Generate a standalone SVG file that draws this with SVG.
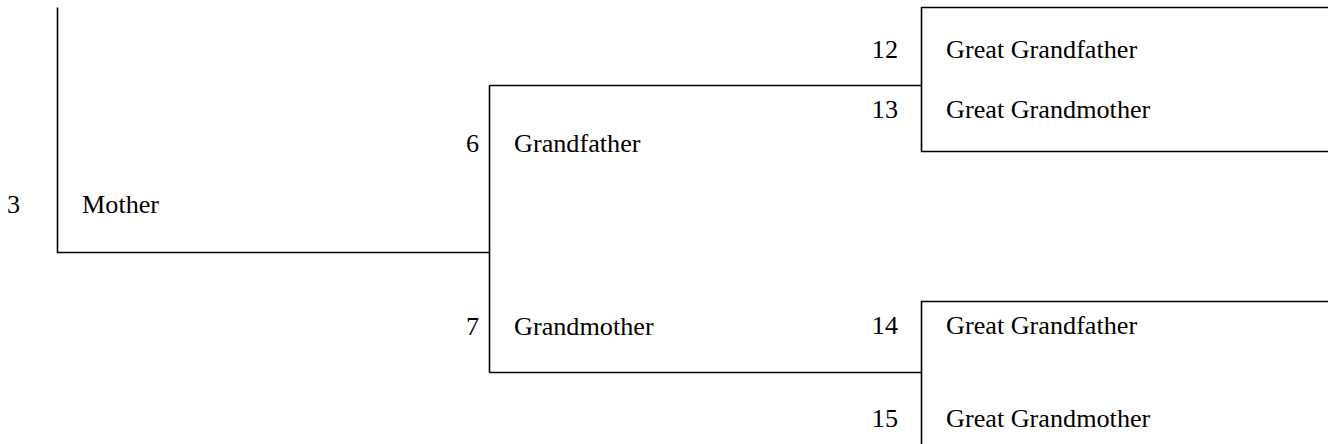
<svg xmlns="http://www.w3.org/2000/svg" width="1328" height="444" viewBox="0 0 1328 444">
<style>
.num{text-anchor:end}
.ln{stroke:#000;stroke-width:1.6;fill:none}
</style>
<rect width="1328" height="444" fill="#fff"/>
<g id="connectors">
<path class="ln" d="M57.5,7.5 V252.5 H489.5"/>
<path class="ln" d="M489.5,85.5 V372.5"/>
<path class="ln" d="M489.5,85.5 H921.5"/>
<path class="ln" d="M489.5,372.5 H921.5"/>
<path class="ln" d="M1328,7.5 H921.5 V151.5 H1328"/>
<path class="ln" d="M1328,301.5 H921.5 V444"/>
</g>
<g font-family="Liberation Serif, DejaVu Serif, serif" font-size="26.2" fill="#000">
<g id="node3"><text x="20" y="213" class="num">3</text><text x="82" y="213">Mother</text></g>
<g id="node6"><text x="479" y="152" class="num">6</text><text x="514" y="152">Grandfather</text></g>
<g id="node7"><text x="479" y="335" class="num">7</text><text x="514" y="335">Grandmother</text></g>
<g id="node12"><text x="898" y="58" class="num">12</text><text x="946" y="58">Great Grandfather</text></g>
<g id="node13"><text x="898" y="118" class="num">13</text><text x="946" y="118">Great Grandmother</text></g>
<g id="node14"><text x="898" y="334" class="num">14</text><text x="946" y="334">Great Grandfather</text></g>
<g id="node15"><text x="898" y="427" class="num">15</text><text x="946" y="427">Great Grandmother</text></g>
</g>
</svg>
